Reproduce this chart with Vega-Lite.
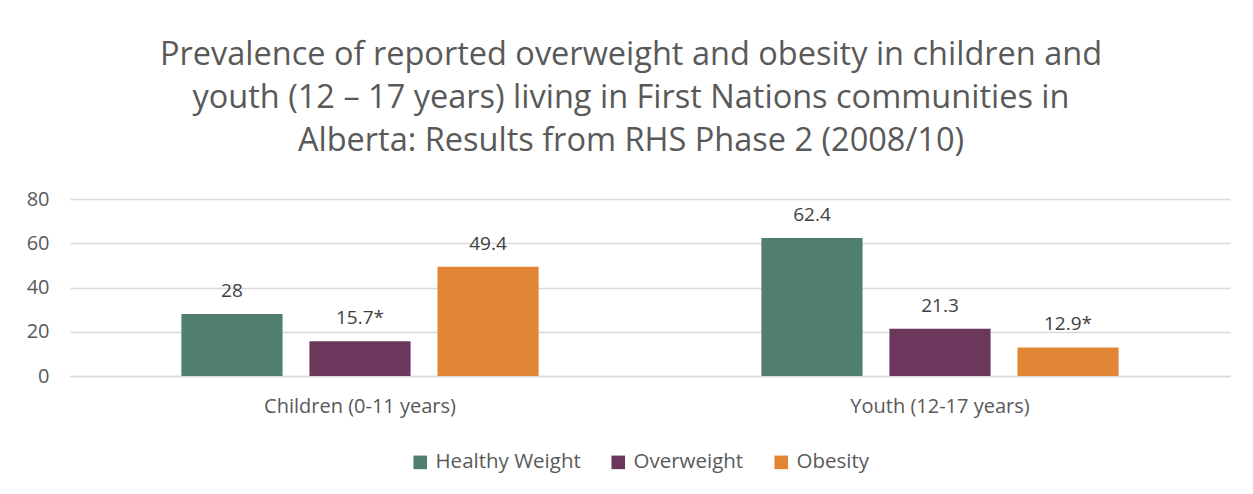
{
  "$schema": "https://vega.github.io/schema/vega-lite/v6.json",
  "autosize": {"type": "none"},
  "width": 1160,
  "height": 177,
  "padding": {"left": 70, "top": 199, "right": 23, "bottom": 118},
  "background": "white",
  "title": {
    "text": ["Prevalence of reported overweight and obesity in children and", "youth (12 – 17 years) living in First Nations communities in", "Alberta: Results from RHS Phase 2 (2008/10)"],
    "font": "Open Sans",
    "fontSize": 32.5,
    "fontWeight": "normal",
    "color": "#595959",
    "lineHeight": 43,
    "anchor": "middle",
    "dx": -19,
    "offset": 32
  },
  "data": {
    "values": [
      {"group": "Children (0-11 years)", "category": "Healthy Weight", "value": 28, "label": "28"},
      {"group": "Children (0-11 years)", "category": "Overweight", "value": 15.7, "label": "15.7*"},
      {"group": "Children (0-11 years)", "category": "Obesity", "value": 49.4, "label": "49.4"},
      {"group": "Youth (12-17 years)", "category": "Healthy Weight", "value": 62.4, "label": "62.4"},
      {"group": "Youth (12-17 years)", "category": "Overweight", "value": 21.3, "label": "21.3"},
      {"group": "Youth (12-17 years)", "category": "Obesity", "value": 12.9, "label": "12.9*"}
    ]
  },
  "encoding": {
    "x": {
      "field": "group", "type": "nominal", "title": null,
      "scale": {"paddingInner": 0, "paddingOuter": 0},
      "axis": {"labelAngle": 0, "labelLimit": 0, "labelFont": "Open Sans", "labelFontSize": 20, "labelColor": "#595959", "domainColor": "#d9d9d9", "domainWidth": 1.5, "ticks": false, "labelPadding": 20}
    },
    "xOffset": {"field": "category", "type": "nominal", "sort": ["Healthy Weight", "Overweight", "Obesity"], "scale": {"paddingInner": 0.21, "paddingOuter": 0.87}},
    "y": {
      "field": "value", "type": "quantitative", "title": null,
      "scale": {"domain": [0, 80]},
      "axis": {"values": [0, 20, 40, 60, 80], "labelFont": "Open Sans", "labelFontSize": 20, "labelColor": "#595959", "domain": false, "ticks": false, "gridColor": "#d9d9d9", "gridWidth": 1.5, "labelPadding": 21}
    }
  },
  "layer": [
    {
      "mark": {"type": "bar"},
      "encoding": {
        "color": {
          "field": "category", "type": "nominal", "sort": ["Healthy Weight", "Overweight", "Obesity"],
          "scale": {"domain": ["Healthy Weight", "Overweight", "Obesity"], "range": ["#507E6F", "#6B375C", "#E28535"]},
          "legend": {
            "title": null, "orient": "none", "direction": "horizontal", "legendX": 340, "legendY": 253,
            "symbolType": "square", "symbolSize": 185, "symbolStrokeWidth": 0,
            "labelFont": "Open Sans", "labelFontSize": 20.5, "labelColor": "#595959", "columnPadding": 27, "labelOffset": 5
          }
        }
      }
    },
    {
      "mark": {"type": "text", "baseline": "bottom", "dy": -13, "font": "Open Sans", "fontSize": 19, "color": "#404040"},
      "encoding": {"text": {"field": "label"}}
    }
  ],
  "config": {"view": {"stroke": null}}
}
